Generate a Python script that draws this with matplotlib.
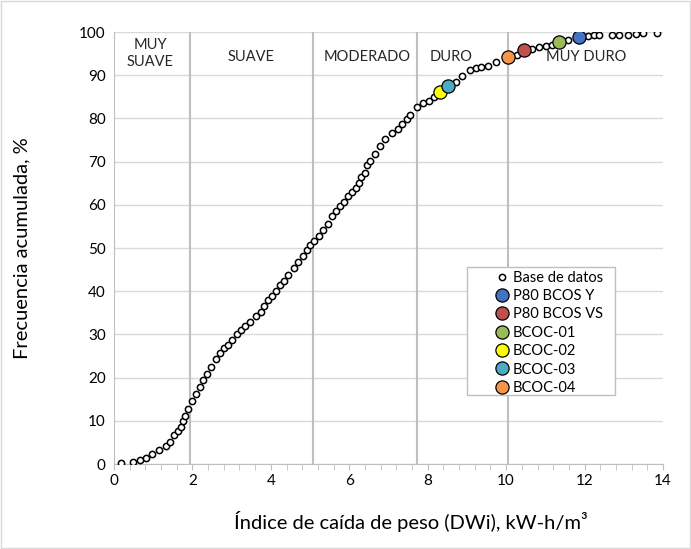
import matplotlib
matplotlib.use("Agg")
import matplotlib.pyplot as plt
from matplotlib.patches import Rectangle
from matplotlib.ticker import MultipleLocator

plt.rcParams['font.family'] = ['Lato', 'DejaVu Sans']

# base de datos: DWi vs frecuencia acumulada
dwi = [0.18, 0.49, 0.66, 0.81, 0.98, 1.14, 1.33, 1.43, 1.52, 1.63, 1.71, 1.76,
       1.82, 1.89, 1.99, 2.09, 2.20, 2.28, 2.37, 2.47, 2.59, 2.71, 2.80, 2.91,
       3.01, 3.13, 3.24, 3.35, 3.46, 3.61, 3.74, 3.83, 3.93, 4.03, 4.14, 4.23,
       4.33, 4.44, 4.58, 4.68, 4.82, 4.92, 5.01, 5.11, 5.23, 5.34, 5.46, 5.57,
       5.66, 5.77, 5.86, 5.96, 6.06, 6.16, 6.26, 6.31, 6.39, 6.46, 6.54, 6.65,
       6.78, 6.92, 7.10, 7.23, 7.35, 7.46, 7.56, 7.73, 7.88, 8.03, 8.17, 8.31,
       8.52, 8.71, 8.88, 9.09, 9.22, 9.36, 9.55, 9.75, 10.06, 10.27, 10.45,
       10.67, 10.83, 11.01, 11.18, 11.36, 11.57, 11.86, 12.08, 12.24, 12.38,
       12.70, 12.89, 13.12, 13.31, 13.49, 13.84]
freq = [0.3, 0.4, 0.9, 1.4, 2.2, 3.2, 4.2, 5.2, 6.6, 7.6, 8.6, 9.9,
        11.1, 12.7, 14.5, 16.3, 17.8, 19.4, 20.9, 22.5, 24.4, 25.8, 26.8, 27.6,
        28.7, 30.0, 31.0, 31.9, 32.9, 34.3, 35.3, 36.6, 38.0, 39.0, 40.0, 41.4,
        42.4, 43.7, 45.4, 46.8, 48.2, 49.5, 50.7, 51.6, 52.8, 54.1, 55.5, 57.3,
        58.5, 59.7, 60.7, 62.0, 63.0, 64.0, 65.0, 66.5, 67.4, 69.1, 70.1, 71.7,
        73.5, 75.2, 76.7, 77.6, 78.8, 79.9, 80.9, 82.7, 83.5, 84.1, 85.0, 86.0,
        87.5, 88.5, 89.8, 91.1, 91.7, 92.0, 92.2, 93.1, 94.1, 94.7, 95.8,
        96.1, 96.6, 96.8, 97.0, 97.6, 98.1, 98.8, 99.1, 99.2, 99.2,
        99.4, 99.4, 99.4, 99.6, 99.8, 99.8]

# muestras
samples = ["P80 BCOS Y", "P80 BCOS VS", "BCOC-01", "BCOC-02", "BCOC-03", "BCOC-04"]
sample_dwi = [11.86, 10.45, 11.36, 8.31, 8.52, 10.06]
sample_freq = [98.8, 95.8, 97.6, 86.0, 87.5, 94.1]
sample_colors = ["#4472C4", "#C0504D", "#9BBB59", "#FFFF00", "#4BACC6", "#F79646"]

# clasificación de dureza
limits = [1.94, 5.07, 7.72, 10.06]
zone_names = ["MUY\nSUAVE", "SUAVE", "MODERADO", "DURO", "MUY DURO"]
zone_x = [0.92, 3.5, 6.45, 8.6, 12.05]
zone_y = [95.0, 94.2, 94.2, 94.2, 94.2]

fig = plt.figure(figsize=(6.91, 5.49), dpi=100)
ax = fig.add_axes([114 / 691, 85 / 549, 549 / 691, 432 / 549])

ax.set_xlim(0, 14)
ax.set_ylim(0, 100)
ax.xaxis.set_major_locator(MultipleLocator(2))
ax.xaxis.set_minor_locator(MultipleLocator(0.4))
ax.yaxis.set_major_locator(MultipleLocator(10))
ax.grid(axis='y', color='#D9D9D9', linewidth=1)
ax.set_axisbelow(True)
for s in ['top', 'right']:
    ax.spines[s].set_visible(False)
for s in ['left', 'bottom']:
    ax.spines[s].set_color('#BFBFBF')
ax.tick_params(axis='x', which='both', direction='out', color='#BFBFBF',
               length=4, labelsize=11)
ax.tick_params(axis='y', length=0, labelsize=11, pad=6)

for lim in limits:
    ax.axvline(lim, color='#BFBFBF', linewidth=1.5, zorder=1)
for name, zx, zy in zip(zone_names, zone_x, zone_y):
    ax.text(zx, zy, name, ha='center', va='center', fontsize=10.5,
            color='#262626', linespacing=1.3)

ax.plot(dwi, freq, 'o', ms=4.5, mfc='white', mec='black', mew=1.1,
        linestyle='none', label='Base de datos', zorder=3)
for name, x, y, c in zip(samples, sample_dwi, sample_freq, sample_colors):
    ax.plot([x], [y], 'o', ms=9.5, mfc=c, mec='black', mew=0.9,
            linestyle='none', label=name, zorder=4)

ax.set_xlabel("Índice de caída de peso (DWi), kW-h/m³", fontsize=14.5)
ax.set_ylabel("Frecuencia acumulada, %", fontsize=14.5)
ax.xaxis.set_label_coords(0.541, -0.132)
ax.yaxis.set_label_coords(-0.1676, 0.5)
ax.xaxis.label.set_va('center')
ax.yaxis.label.set_va('center')

# leyenda con marco aparte (margen izquierdo amplio)
leg = ax.legend(loc='upper left', bbox_to_anchor=(0.681, 0.461), fontsize=10.5,
                frameon=False, handletextpad=0.1, handlelength=1.2,
                labelspacing=0.3, borderpad=0.4, borderaxespad=0)
ax.add_patch(Rectangle((0.643, 0.160), 0.27, 0.296, transform=ax.transAxes,
                       facecolor='white', edgecolor='#BFBFBF', linewidth=1,
                       zorder=5))
leg.set_zorder(6)

fig.patches.append(Rectangle((0.002, 0.002), 0.996, 0.996, transform=fig.transFigure,
                             fill=False, edgecolor='#D9D9D9', linewidth=1))

fig.savefig("out.png", dpi=100)
